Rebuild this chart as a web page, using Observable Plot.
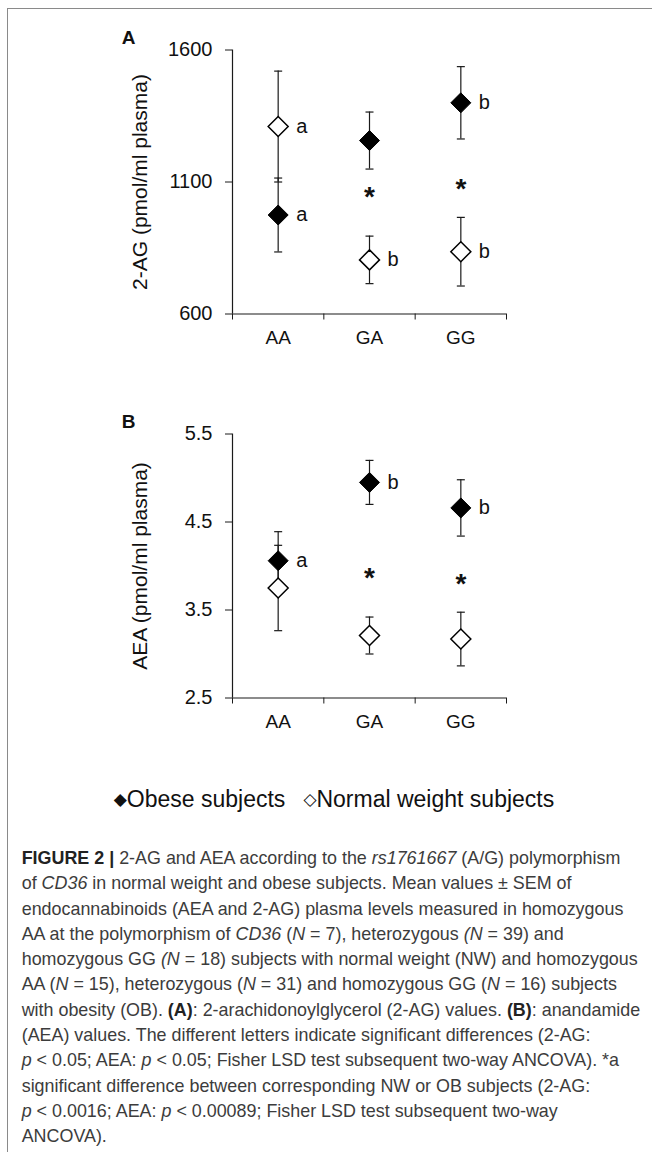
<!DOCTYPE html>
<html><head><meta charset="utf-8">
<script src="https://cdn.jsdelivr.net/npm/d3@7"></script>
<script src="https://cdn.jsdelivr.net/npm/@observablehq/plot@0.6"></script>
<style>
html,body{margin:0;padding:0;background:#fff;}
#fig{position:relative;width:652px;height:1153px;overflow:hidden;background:#fff;font-family:"Liberation Sans",Arial,sans-serif;}
#frameTop{position:absolute;left:7px;top:7.5px;width:645px;height:0;border-top:1.3px solid #8a8a8a;}
#frameLeft{position:absolute;left:7px;top:7.5px;width:0;height:1144px;border-left:1.3px solid #8a8a8a;}
.panel{position:absolute;left:0;}
#legend{position:absolute;top:786px;left:8px;width:652px;text-align:center;font-size:23px;line-height:26px;color:#111;white-space:nowrap;}
#legend .sym{font-family:"DejaVu Sans";font-size:17px;position:relative;top:-2px;}
#caption{position:absolute;left:21.7px;top:846px;font-size:17.9px;line-height:25.3px;color:#3c3c3c;white-space:nowrap;}
#caption b{color:#222;}
</style>
</head><body>
<div id="fig">
  <div id="frameTop"></div>
  <div id="frameLeft"></div>
  <div id="panelA" class="panel" style="top:0px"></div>
  <div id="panelB" class="panel" style="top:384px"></div>
  <div id="legend"></div>
  <div id="caption"></div>
</div>
<script>
// ---- data ----
const genotypes = ["AA", "GA", "GG"];
const xTickLabels = ["AA", "GA", "GG"];

const agObeseMean = [975, 1257, 1400];
const agObeseSem = [140, 108, 137];
const agObeseLetter = ["a", "", "b"];
const agNormalMean = [1310, 805, 836];
const agNormalSem = [210, 90, 130];
const agNormalLetter = ["a", "b", "b"];
const agStar = [null, 1070, 1098];
const agTicks = [600, 1100, 1600];
const agDomain = [600, 1600];

const aeaObeseMean = [4.06, 4.95, 4.66];
const aeaObeseSem = [0.33, 0.25, 0.32];
const aeaObeseLetter = ["a", "b", "b"];
const aeaNormalMean = [3.75, 3.21, 3.17];
const aeaNormalSem = [0.485, 0.21, 0.305];
const aeaNormalLetter = ["", "", ""];
const aeaStar = [null, 3.94, 3.88];
const aeaTicks = [2.5, 3.5, 4.5, 5.5];
const aeaDomain = [2.5, 5.5];

const legendLabels = ["Obese subjects", "Normal weight subjects"];

// ---- symbols ----
const diamond = {draw(ctx) { ctx.moveTo(0, -10); ctx.lineTo(10, 0); ctx.lineTo(0, 10); ctx.lineTo(-10, 0); ctx.closePath(); }};
const cap = {draw(ctx) { ctx.moveTo(-4, 0); ctx.lineTo(4, 0); }};

function panel({tag, yLabel, ticks, tickFormat, domain, obese, normal, star}) {
  const rows = (g, mean, sem, letter) => genotypes.map((d, i) => ({g, x: i + 0.5, mean: mean[i], sem: sem[i], letter: letter[i]}));
  const ob = rows("obese", obese.mean, obese.sem, obese.letter);
  const nw = rows("normal", normal.mean, normal.sem, normal.letter);
  const all = [...nw, ...ob];
  const caps = all.flatMap(d => [{x: d.x, y: d.mean - d.sem}, {x: d.x, y: d.mean + d.sem}]);
  const stars = star.map((v, i) => ({x: i + 0.5, y: v})).filter(d => d.y != null);
  const ink = "#1a1a1a";
  return Plot.plot({
    width: 652, height: 350,
    marginLeft: 232, marginRight: 146, marginTop: 49.5, marginBottom: 36.5,
    style: {fontFamily: "'Liberation Sans', Arial, sans-serif", fontSize: "20px", color: "#111", background: "transparent", overflow: "visible"},
    x: {type: "linear", domain: [0, 3]},
    y: {domain},
    marks: [
      Plot.axisX({ticks: [0, 1, 2, 3], tickSize: 6, tickFormat: () => "", stroke: ink, label: null}),
      Plot.axisX({ticks: genotypes.map((d, i) => i + 0.5), tickSize: 0, tickPadding: 16.5, tickFormat: d => xTickLabels[Math.floor(d)], fontSize: 19, label: null}),
      Plot.axisY({ticks, tickFormat, tickSize: 7, tickPadding: 13, fontSize: 20, label: null, stroke: ink}),
      Plot.ruleY([domain[0]], {stroke: ink, strokeWidth: 1.2}),
      Plot.ruleX([0], {stroke: ink, strokeWidth: 1.2}),
      Plot.ruleX(all, {x: "x", y1: d => d.mean - d.sem, y2: d => d.mean + d.sem, stroke: ink, strokeWidth: 1.2}),
      Plot.dot(caps, {x: "x", y: "y", symbol: cap, fill: "none", stroke: ink, strokeWidth: 1.2}),
      Plot.dot(nw, {x: "x", y: "mean", symbol: diamond, fill: "#fff", stroke: "#000", strokeWidth: 1.5}),
      Plot.dot(ob, {x: "x", y: "mean", symbol: diamond, fill: "#000", stroke: "#000", strokeWidth: 1}),
      Plot.text(all.filter(d => d.letter), {x: "x", y: "mean", text: "letter", dx: 18, textAnchor: "start", fontSize: 20, fill: "#111"}),
      Plot.text(stars, {x: "x", y: "y", text: () => "*", fontWeight: "bold", fontSize: 28, dy: 7, fill: "#111"}),
      Plot.text([yLabel], {frameAnchor: "left", textAnchor: "middle", lineAnchor: "middle", rotate: -90, dx: -92, fontSize: 21, fill: "#111"}),
      Plot.text([tag], {frameAnchor: "top-left", textAnchor: "middle", dx: -104, dy: -6.5, lineAnchor: "bottom", fontWeight: "bold", fontSize: 19, fill: "#111"})
    ]
  });
}

document.getElementById("panelA").append(panel({
  tag: "A", yLabel: "2-AG (pmol/ml plasma)", ticks: agTicks, tickFormat: d3.format("d"), domain: agDomain,
  obese: {mean: agObeseMean, sem: agObeseSem, letter: agObeseLetter},
  normal: {mean: agNormalMean, sem: agNormalSem, letter: agNormalLetter},
  star: agStar
}));
document.getElementById("panelB").append(panel({
  tag: "B", yLabel: "AEA (pmol/ml plasma)", ticks: aeaTicks, tickFormat: d3.format(".1f"), domain: aeaDomain,
  obese: {mean: aeaObeseMean, sem: aeaObeseSem, letter: aeaObeseLetter},
  normal: {mean: aeaNormalMean, sem: aeaNormalSem, letter: aeaNormalLetter},
  star: aeaStar
}));

document.getElementById("legend").innerHTML =
  `<span class="sym">◆</span>${legendLabels[0]}<span class="sym" style="margin-left:18px">◇</span>${legendLabels[1]}`;

const captionLines = [
  `<b>FIGURE 2 |</b> 2-AG and AEA according to the <i>rs1761667</i> (A/G) polymorphism`,
  `of <i>CD36</i> in normal weight and obese subjects. Mean values ± SEM of`,
  `endocannabinoids (AEA and 2-AG) plasma levels measured in homozygous`,
  `AA at the polymorphism of <i>CD36</i> (<i>N</i> = 7), heterozygous <i>(N</i> = 39) and`,
  `homozygous GG <i>(N</i> = 18) subjects with normal weight (NW) and homozygous`,
  `AA (<i>N</i> = 15), heterozygous (<i>N</i> = 31) and homozygous GG (<i>N</i> = 16) subjects`,
  `with obesity (OB). <b>(A)</b>: 2-arachidonoylglycerol (2-AG) values. <b>(B)</b>: anandamide`,
  `(AEA) values. The different letters indicate significant differences (2-AG:`,
  `<i>p</i> &lt; 0.05; AEA: <i>p</i> &lt; 0.05; Fisher LSD test subsequent two-way ANCOVA). *a`,
  `significant difference between corresponding NW or OB subjects (2-AG:`,
  `<i>p</i> &lt; 0.0016; AEA: <i>p</i> &lt; 0.00089; Fisher LSD test subsequent two-way`,
  `ANCOVA).`
];
document.getElementById("caption").innerHTML = captionLines.map(l => `<div>${l}</div>`).join("");
</script>
</body></html>
